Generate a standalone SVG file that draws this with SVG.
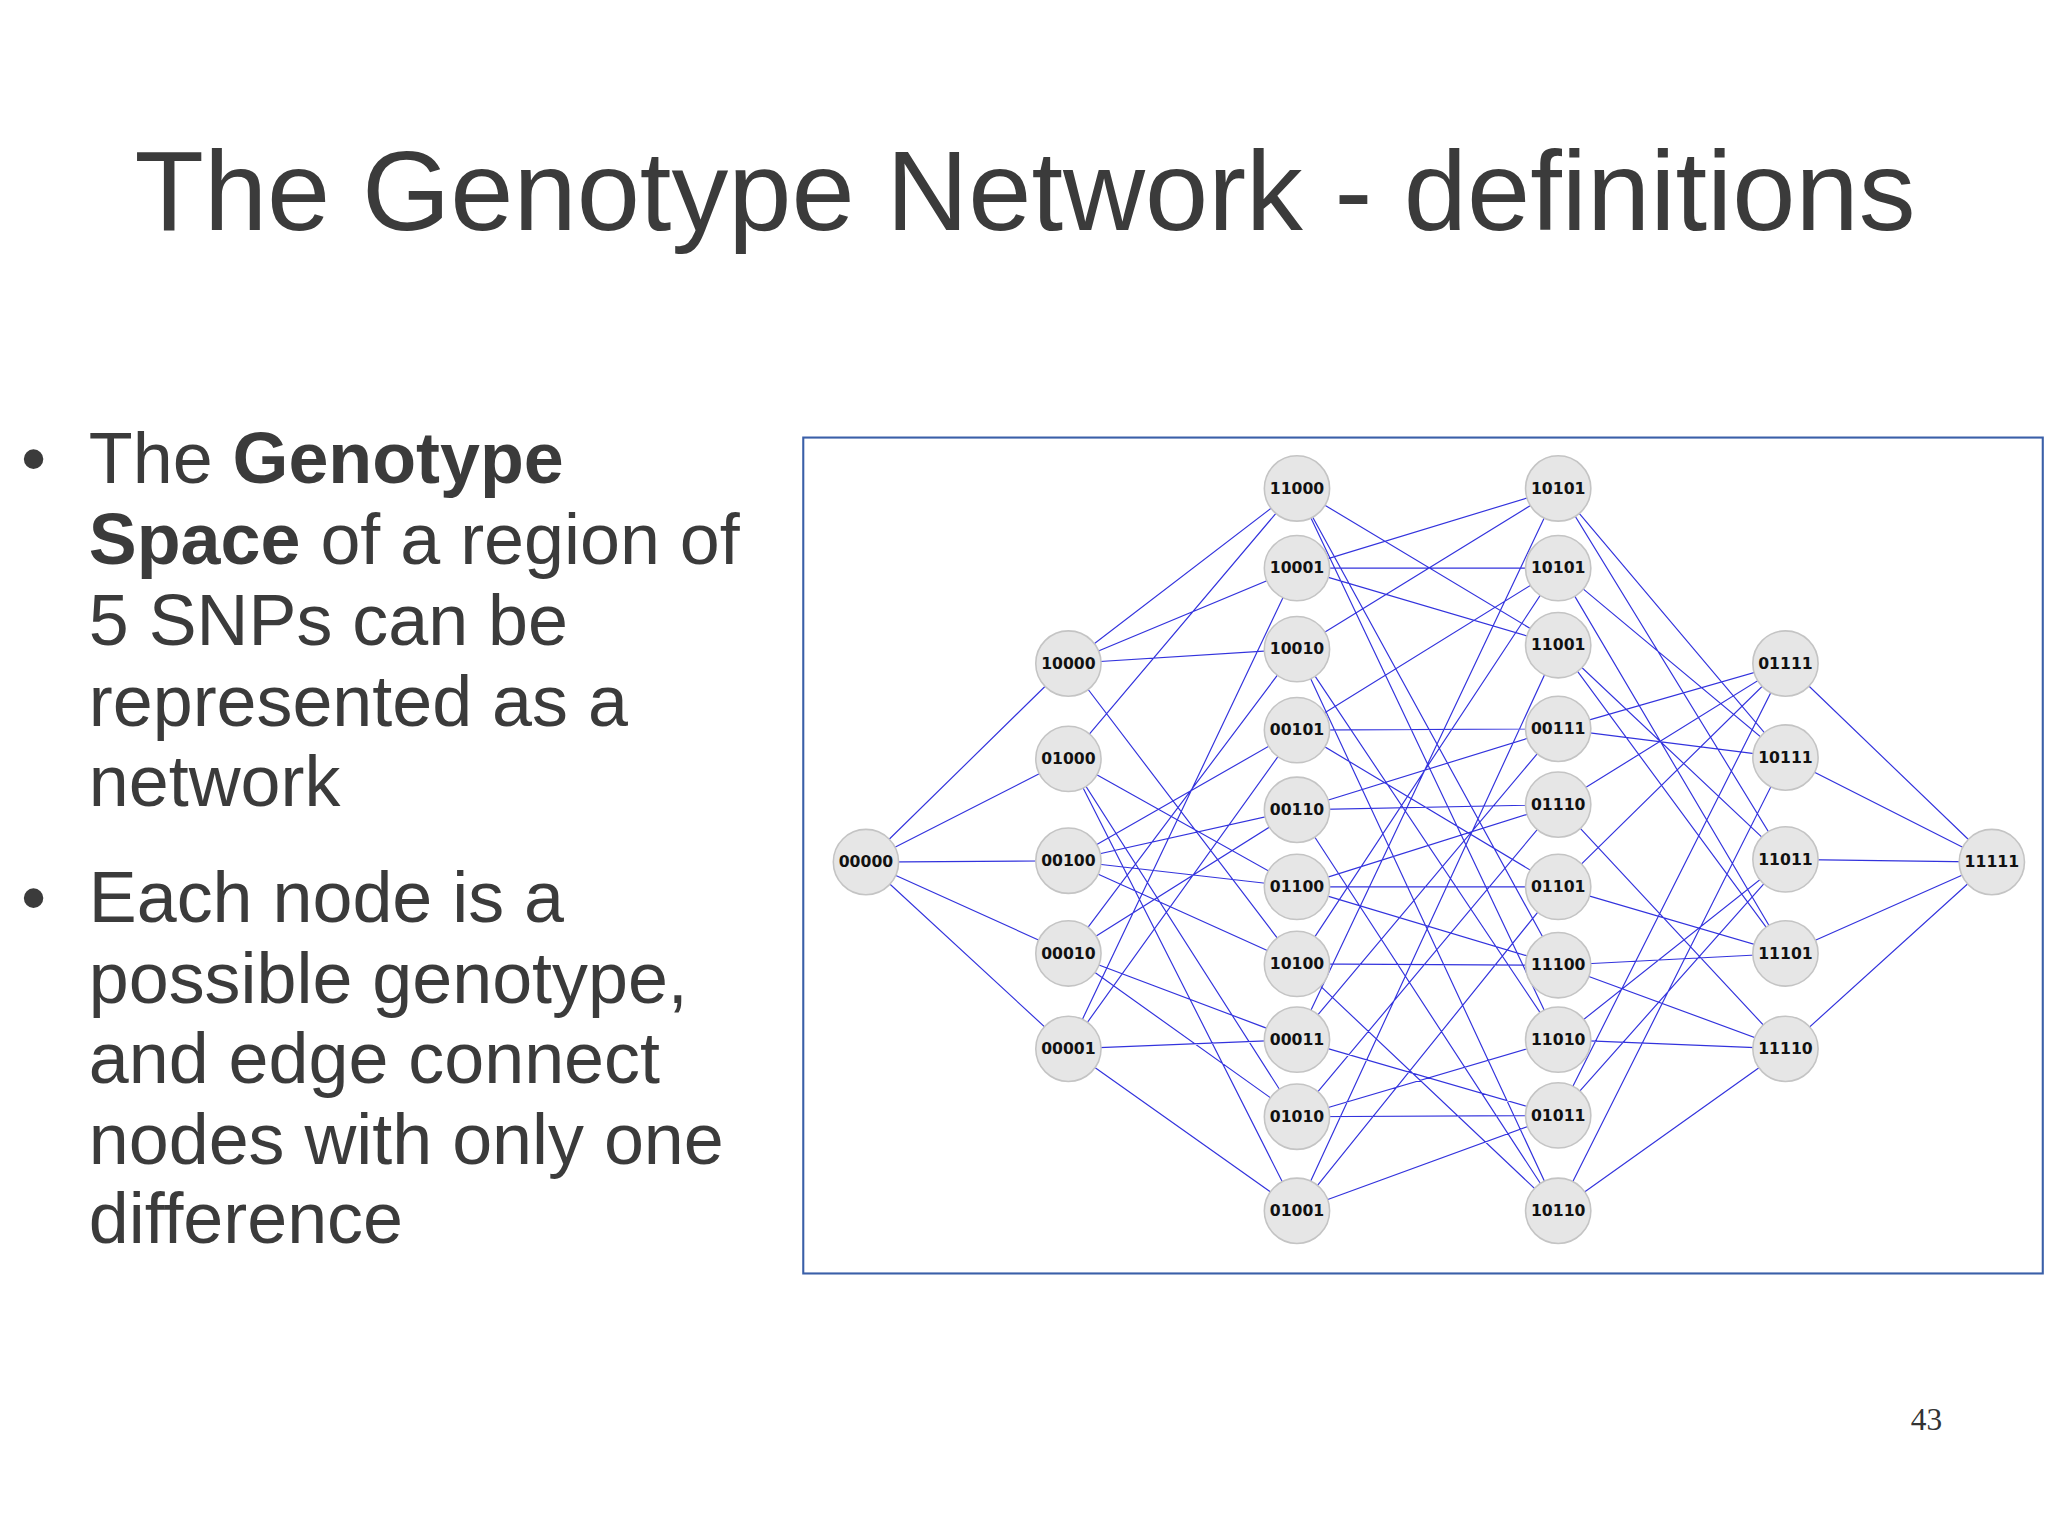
<svg xmlns="http://www.w3.org/2000/svg" width="2048" height="1535" viewBox="0 0 2048 1535">
<style>
.t{font-family:"Liberation Sans",Arial,sans-serif;fill:#3b3b3b}
.n circle{fill:#e6e6e6;stroke:#c4c4c4;stroke-width:1.2}
.n text{font-family:"DejaVu Sans",sans-serif;font-weight:bold;font-size:12px;fill:#111;text-anchor:middle}
</style>
<rect width="2048" height="1535" fill="#fff"/>
<g transform="scale(1.30612)">
<text class="t" x="103" y="176" font-size="87">The Genotype Network - definitions</text>
<g class="t" font-size="55">
<text x="16" y="370">•</text>
<text x="68" y="370">The <tspan font-weight="bold">Genotype</tspan></text>
<text x="68" y="432"><tspan font-weight="bold">Space</tspan> of a region of</text>
<text x="68" y="494">5 SNPs can be</text>
<text x="68" y="556">represented as a</text>
<text x="68" y="617">network</text>
<text x="16" y="706">•</text>
<text x="68" y="706">Each node is a</text>
<text x="68" y="768">possible genotype,</text>
<text x="68" y="829">and edge connect</text>
<text x="68" y="891">nodes with only one</text>
<text x="68" y="952">difference</text>
</g>
<text x="1475" y="1095" font-family="Liberation Serif,serif" font-size="24" fill="#333" text-anchor="middle">43</text>
<rect x="615" y="335" width="949" height="640" fill="#fff" stroke="#3a5fa8" stroke-width="1.6"/>
<g id="connectors" fill="none" stroke="#3333dd" stroke-width="0.9">
<path d="M663,660L818,508M663,660L818,581M663,660L818,659M663,660L818,730M663,660L818,803
M818,508L993,374M818,508L993,738M818,508L993,497M818,508L993,435
M818,581L993,374M818,581L993,679M818,581L993,855M818,581L993,927
M818,659L993,738M818,659L993,679M818,659L993,620M818,659L993,559
M818,730L993,497M818,730L993,855M818,730L993,620M818,730L993,796
M818,803L993,435M818,803L993,927M818,803L993,559M818,803L993,796
M993,374L1193,739M993,374L1193,796M993,374L1193,494
M993,435L1193,494M993,435L1193,435M993,435L1193,374
M993,497L1193,796M993,497L1193,927M993,497L1193,374
M993,559L1193,435M993,559L1193,679M993,559L1193,558
M993,620L1193,927M993,620L1193,616M993,620L1193,558
M993,679L1193,739M993,679L1193,616M993,679L1193,679
M993,738L1193,739M993,738L1193,927M993,738L1193,435
M993,796L1193,374M993,796L1193,854M993,796L1193,558
M993,855L1193,796M993,855L1193,616M993,855L1193,854
M993,927L1193,494M993,927L1193,679M993,927L1193,854
M1193,374L1367,658M1193,374L1367,580
M1193,435L1367,730M1193,435L1367,580
M1193,494L1367,730M1193,494L1367,658
M1193,558L1367,580M1193,558L1367,508
M1193,616L1367,803M1193,616L1367,508
M1193,679L1367,730M1193,679L1367,508
M1193,739L1367,803M1193,739L1367,730
M1193,796L1367,803M1193,796L1367,658
M1193,854L1367,658M1193,854L1367,508
M1193,927L1367,803M1193,927L1367,580
M1367,508L1525,660M1367,580L1525,660M1367,658L1525,660M1367,730L1525,660M1367,803L1525,660"/>
</g>
<g class="n">
<g id="n00000"><circle cx="663" cy="660" r="25"/><text x="663" y="664">00000</text></g>
<g id="n10000"><circle cx="818" cy="508" r="25"/><text x="818" y="512">10000</text></g>
<g id="n01000"><circle cx="818" cy="581" r="25"/><text x="818" y="585">01000</text></g>
<g id="n00100"><circle cx="818" cy="659" r="25"/><text x="818" y="663">00100</text></g>
<g id="n00010"><circle cx="818" cy="730" r="25"/><text x="818" y="734">00010</text></g>
<g id="n00001"><circle cx="818" cy="803" r="25"/><text x="818" y="807">00001</text></g>
<g id="n11000"><circle cx="993" cy="374" r="25"/><text x="993" y="378">11000</text></g>
<g id="n10001"><circle cx="993" cy="435" r="25"/><text x="993" y="439">10001</text></g>
<g id="n10010"><circle cx="993" cy="497" r="25"/><text x="993" y="501">10010</text></g>
<g id="n00101"><circle cx="993" cy="559" r="25"/><text x="993" y="563">00101</text></g>
<g id="n00110"><circle cx="993" cy="620" r="25"/><text x="993" y="624">00110</text></g>
<g id="n01100"><circle cx="993" cy="679" r="25"/><text x="993" y="683">01100</text></g>
<g id="n10100"><circle cx="993" cy="738" r="25"/><text x="993" y="742">10100</text></g>
<g id="n00011"><circle cx="993" cy="796" r="25"/><text x="993" y="800">00011</text></g>
<g id="n01010"><circle cx="993" cy="855" r="25"/><text x="993" y="859">01010</text></g>
<g id="n01001"><circle cx="993" cy="927" r="25"/><text x="993" y="931">01001</text></g>
<g id="n10011"><circle cx="1193" cy="374" r="25"/><text x="1193" y="378">10101</text></g>
<g id="n10101"><circle cx="1193" cy="435" r="25"/><text x="1193" y="439">10101</text></g>
<g id="n11001"><circle cx="1193" cy="494" r="25"/><text x="1193" y="498">11001</text></g>
<g id="n00111"><circle cx="1193" cy="558" r="25"/><text x="1193" y="562">00111</text></g>
<g id="n01110"><circle cx="1193" cy="616" r="25"/><text x="1193" y="620">01110</text></g>
<g id="n01101"><circle cx="1193" cy="679" r="25"/><text x="1193" y="683">01101</text></g>
<g id="n11100"><circle cx="1193" cy="739" r="25"/><text x="1193" y="743">11100</text></g>
<g id="n11010"><circle cx="1193" cy="796" r="25"/><text x="1193" y="800">11010</text></g>
<g id="n01011"><circle cx="1193" cy="854" r="25"/><text x="1193" y="858">01011</text></g>
<g id="n10110"><circle cx="1193" cy="927" r="25"/><text x="1193" y="931">10110</text></g>
<g id="n01111"><circle cx="1367" cy="508" r="25"/><text x="1367" y="512">01111</text></g>
<g id="n10111"><circle cx="1367" cy="580" r="25"/><text x="1367" y="584">10111</text></g>
<g id="n11011"><circle cx="1367" cy="658" r="25"/><text x="1367" y="662">11011</text></g>
<g id="n11101"><circle cx="1367" cy="730" r="25"/><text x="1367" y="734">11101</text></g>
<g id="n11110"><circle cx="1367" cy="803" r="25"/><text x="1367" y="807">11110</text></g>
<g id="n11111"><circle cx="1525" cy="660" r="25"/><text x="1525" y="664">11111</text></g>
</g>
</g>
</svg>
